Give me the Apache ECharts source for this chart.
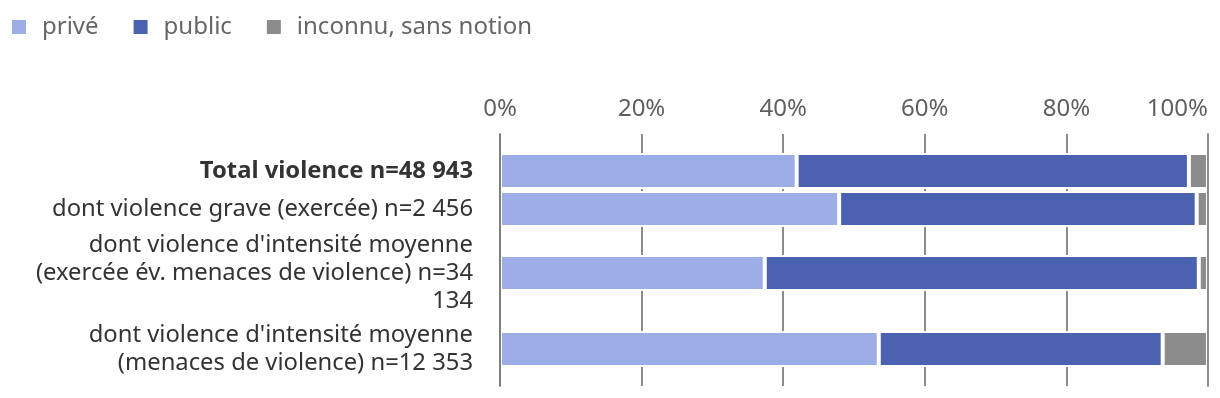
<!DOCTYPE html>
<html>
<head>
<meta charset="utf-8">
<script src="https://cdn.jsdelivr.net/npm/echarts@6/dist/echarts.min.js"></script>
<style>
html,body{margin:0;padding:0;background:#fff;}
#chart{width:1220px;height:398px;}
</style>
</head>
<body>
<div id="chart"></div>
<script>
const categories = [
  'Total violence n=48 943',
  'dont violence grave (exercée) n=2 456',
  "dont violence d'intensité moyenne\n(exercée év. menaces de violence) n=34\n134",
  "dont violence d'intensité moyenne\n(menaces de violence) n=12 353"
];
const seriesNames = ['privé', 'public', 'inconnu, sans notion'];
const prive = [41.9, 47.9, 37.4, 53.5];
const publicVals = [55.4, 50.5, 61.3, 40.1];
const inconnu = [2.7, 1.6, 1.3, 6.4];
const colors = ['#9daee6', '#4a62b0', '#8c8c8c'];

const FONT = '"Noto Sans", "Open Sans", sans-serif';
const FS = 24;
const LEFT = 500, RIGHT = 12;
// row layout (top, height) in px
const rowTops = [152, 190, 228, 318];
const rowHeights = [38, 38, 90, 62];

const grids = [{left: LEFT, right: RIGHT, top: 134, height: 252}];
const xAxes = [{
  type: 'value', gridIndex: 0, position: 'top', min: 0, max: 100, interval: 20,
  axisLine: {show: false}, axisTick: {show: false},
  axisLabel: {formatter: '{value}%', color: '#5f5f5f', fontSize: FS, fontFamily: FONT, margin: 13, alignMaxLabel: 'right'},
  splitLine: {show: true, lineStyle: {color: '#8c8c8c', width: 2}}
}];
const yAxes = [{
  type: 'category', gridIndex: 0, data: [''], z: 5,
  axisLine: {show: true, onZero: false, lineStyle: {color: '#808080', width: 2}},
  axisTick: {show: false}, axisLabel: {show: false}, splitLine: {show: false}
}, {
  type: 'category', gridIndex: 0, data: [''], z: 5, position: 'right',
  axisLine: {show: true, onZero: false, lineStyle: {color: '#8c8c8c', width: 2}},
  axisTick: {show: false}, axisLabel: {show: false}, splitLine: {show: false}
}];
const series = [];
const valueSets = [prive, publicVals, inconnu];

categories.forEach((cat, i) => {
  grids.push({left: LEFT, right: RIGHT, top: rowTops[i], height: rowHeights[i]});
  xAxes.push({type: 'value', gridIndex: i + 1, min: 0, max: 100, show: false});
  yAxes.push({
    type: 'category', gridIndex: i + 1, data: [cat],
    axisLine: {show: false}, axisTick: {show: false}, splitLine: {show: false},
    axisLabel: {
      color: '#333333', fontSize: 23.8, fontFamily: FONT, lineHeight: 28, margin: 27,
      fontWeight: i === 0 ? 'bold' : 'normal', align: 'right'
    }
  });
  valueSets.forEach((vals, s) => {
    series.push({
      type: 'bar', name: seriesNames[s], stack: 'row' + i,
      xAxisIndex: i + 1, yAxisIndex: i + 2,
      data: [vals[i]], barWidth: 36,
      itemStyle: {color: colors[s], borderColor: '#ffffff', borderWidth: 2},
      emphasis: {disabled: true}, silent: true
    });
  });
});

const chart = echarts.init(document.getElementById('chart'), null, {renderer: 'canvas'});
chart.setOption({
  animation: false,
  color: colors,
  legend: {
    data: seriesNames, left: 10, top: 15, padding: 0, icon: 'rect', itemWidth: 16, itemHeight: 16, itemGap: 33,
    textStyle: {fontSize: FS, color: '#666666', fontFamily: FONT, padding: [0, 0, 0, 10]},
    selectedMode: false
  },
  grid: grids, xAxis: xAxes, yAxis: yAxes, series: series
});
</script>
</body>
</html>
